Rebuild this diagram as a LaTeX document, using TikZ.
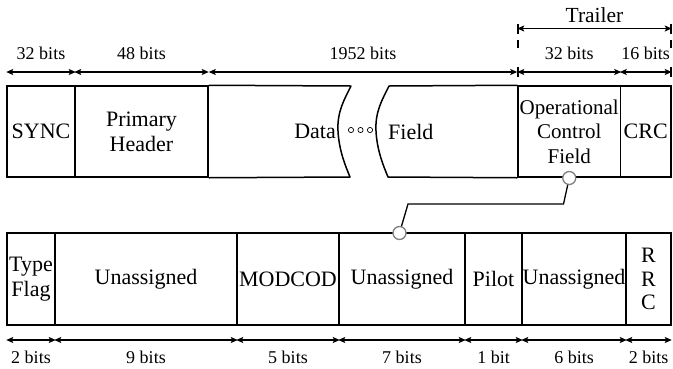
\documentclass[tikz,border=0pt]{standalone}
\usepackage{fontspec}
\setmainfont{Liberation Serif}
\usetikzlibrary{arrows.meta}
\begin{document}
\begin{tikzpicture}[x=1pt,y=-1pt,
  field/.style={draw, line width=1.5pt, inner sep=0pt, align=center, font=\fontsize{22}{25}\selectfont},
  ftext/.style={inner sep=0pt, font=\fontsize{22}{25}\selectfont},
  lbl/.style={font=\fontsize{18}{20}\selectfont, inner sep=0pt},
  dim/.style={line width=1.3pt, {Stealth[length=7pt,width=6pt,inset=1.5pt]}-{Stealth[length=7pt,width=6pt,inset=1.5pt]}},
  tick/.style={line width=1.3pt},
  brk/.style={line width=1.5pt, line join=round},
  port/.style={circle, draw=black!50, fill=white, line width=1.3pt, minimum size=13pt, inner sep=0pt},
  wire/.style={line width=1.3pt}]
\useasboundingbox (0,0) rectangle (673,368);

% top row
\node[field, minimum width=68pt, minimum height=91pt] (sync) at (41,131.5) {SYNC};
\node[field, minimum width=133pt, minimum height=91pt] (ph) at (141.5,131.5) {Primary\\Header};
\node[field, minimum width=102.5pt, minimum height=91pt, font=\fontsize{21}{24.5}\selectfont] (ocf) at (569.25,131.5) {Operational\\Control\\Field};
\node[field, minimum width=50.5pt, minimum height=91pt] (crc) at (645.75,131.5) {CRC};

% data field (broken)
\draw[brk] (ph.north east) -- (351,86) .. controls (344,100) and (337,112) .. (338,131) .. controls (339,150) and (345,165) .. (350,177) -- (ph.south east);
\draw[brk] (ocf.north west) -- (389,86) .. controls (382,100) and (375,112) .. (376,131) .. controls (377,150) and (383,165) .. (388,177) -- (ocf.south west);
\node[ftext, anchor=east] (dataL) at (336,131.5) {Data};
\node[ftext, anchor=west] (dataR) at (388,131.5) {Field};
\foreach \cx in {351,360.5,370} \draw[line width=0.7pt] (\cx,130) circle (2.6);

% top dimensions
\draw[dim] (sync.west |- 0,72) -- (sync.east |- 0,72);
\draw[dim] (ph.west |- 0,72) -- (ph.east |- 0,72);
\draw[dim] (ph.east |- 0,72) -- (ocf.west |- 0,72);
\draw[dim] (ocf.west |- 0,72) -- (ocf.east |- 0,72);
\draw[dim] (crc.west |- 0,72) -- (crc.east |- 0,72);
\node[lbl] at (41,53) {32 bits};
\node[lbl] at (141.5,53) {48 bits};
\node[lbl] at (363,53) {1952 bits};
\node[lbl] at (569.25,53) {32 bits};
\node[lbl] at (645.5,53) {16 bits};

% trailer
\draw[dim] (ocf.west |- 0,28.5) -- (crc.east |- 0,28.5);
\node[inner sep=0pt, font=\fontsize{21.5}{24}\selectfont] at (594.5,15) {Trailer};
\foreach \tx in {518,671} {
  \draw[tick] (\tx,23.5) -- (\tx,33.5);
  \draw[tick] (\tx,40) -- (\tx,48);
  \draw[tick] (\tx,67) -- (\tx,77);
}

% bottom row
\node[field, minimum width=48pt, minimum height=92pt] (tf) at (31,279) {Type\\Flag};
\node[field, minimum width=182pt, minimum height=92pt] (un1) at (146,279) {Unassigned};
\node[field, minimum width=102pt, minimum height=92pt] (mod) at (288,279) {MODCOD};
\node[field, minimum width=126pt, minimum height=92pt] (un2) at (402,279) {Unassigned};
\node[field, minimum width=57pt, minimum height=92pt] (pilot) at (493.5,279) {Pilot};
\node[field, minimum width=104pt, minimum height=92pt] (un3) at (574,279) {Unassigned};
\node[field, minimum width=45pt, minimum height=92pt, font=\fontsize{22}{23.5}\selectfont] (rrc) at (648.5,279) {R\\R\\C};

% bottom dimensions
\foreach \n/\t in {tf/2 bits, un1/9 bits, mod/5 bits, un2/7 bits, pilot/1 bit, un3/6 bits, rrc/2 bits} {
  \draw[dim] (\n.west |- 0,340) -- (\n.east |- 0,340);
  \node[lbl] at (\n |- 0,357.5) {\t};
}

% connector
\node[port] (p1) at (569.25,178) {};
\node[port] (p2) at (399.5,233) {};
\coordinate (w1) at (563.5,204);
\coordinate (w2) at (408,204);
\draw[wire] (p1) -- (w1) -- (w2) -- (p2);
\end{tikzpicture}
\end{document}
